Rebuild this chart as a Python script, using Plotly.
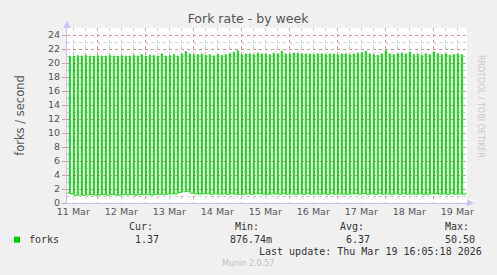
import pandas as pd
import plotly.graph_objects as go

# ---- data ----
start_time = "2026-03-11 08:00"
period_hours = 2
spike_values = [
    21.0, 21.0, 21.0, 21.05, 21.0, 21.1, 21.0, 21.0, 21.05, 21.0,
    21.0, 21.1, 21.0, 21.0, 21.05, 21.0, 21.0, 21.1, 21.0, 21.2,
    21.0, 21.1, 21.05, 21.0, 21.3, 21.0, 21.1, 21.2, 21.0, 21.3,
    21.65, 21.3, 21.2, 21.2, 21.3, 21.1, 21.2, 21.0, 21.2, 21.1,
    21.2, 21.3, 21.5, 21.75, 21.2, 21.3, 21.3, 21.2, 21.4, 21.3,
    21.3, 21.2, 21.4, 21.3, 21.7, 21.3, 21.3, 21.4, 21.4, 21.3,
    21.3, 21.3, 21.2, 21.3, 21.3, 21.2, 21.3, 21.3, 21.2, 21.3,
    21.3, 21.2, 21.3, 21.4, 21.5, 21.7, 21.3, 21.2, 21.1, 21.3,
    21.8, 21.3, 21.2, 21.3, 21.4, 21.3, 21.6, 21.2, 21.3, 21.1,
    21.3, 21.2, 21.6, 21.3, 21.2, 21.3, 21.1, 21.2, 21.3, 21.2,
]
base_values = [
    1.4, 1.3, 1.1, 1.15, 1.1, 1.15, 1.2, 1.1, 1.15, 1.2,
    1.1, 1.2, 1.15, 1.1, 1.2, 1.15, 1.2, 1.1, 1.2, 1.2,
    1.2, 1.15, 1.2, 1.25, 1.2, 1.25, 1.3, 1.3, 1.5, 1.6,
    1.65, 1.4, 1.3, 1.25, 1.3, 1.3, 1.25, 1.3, 1.25, 1.3,
    1.25, 1.3, 1.25, 1.2, 1.25, 1.3, 1.25, 1.3, 1.3, 1.25,
    1.25, 1.3, 1.3, 1.25, 1.3, 1.25, 1.3, 1.25, 1.3, 1.25,
    1.3, 1.25, 1.3, 1.25, 1.3, 1.25, 1.3, 1.25, 1.3, 1.25,
    1.25, 1.3, 1.3, 1.25, 1.35, 1.25, 1.3, 1.25, 1.3, 1.25,
    1.3, 1.25, 1.3, 1.25, 1.3, 1.25, 1.3, 1.25, 1.3, 1.25,
    1.25, 1.3, 1.3, 1.25, 1.3, 1.25, 1.3, 1.25, 1.3, 1.25,
]
final_values = [1.37, 1.37]
final_times = ["2026-03-19 16:00", "2026-03-19 16:30"]

y_ticks = list(range(0, 25, 2))
legend_headers = ["Cur:", "Min:", "Avg:", "Max:"]
legend_values = ["1.37", "876.74m", "6.37", "50.50"]
series_name = "forks"
title_text = "Fork rate - by week"
y_title = "forks / second"
last_update = "Last update: Thu Mar 19 16:05:18 2026"
footer = "Munin 2.0.57"
side_text = "RRDTOOL / TOBI OETIKER"

# ---- build series ----
t0 = pd.Timestamp(start_time)
xs, ys = [], []
for k, (sp, bs) in enumerate(zip(spike_values, base_values)):
    base_t = t0 + pd.Timedelta(hours=period_hours * k)
    for j, v in enumerate([sp, bs, bs, bs]):
        xs.append(base_t + pd.Timedelta(minutes=30 * j))
        ys.append(v)
for t, v in zip(final_times, final_values):
    xs.append(pd.Timestamp(t))
    ys.append(v)

W, H = 497, 275
L, R, T, B = 67, 467, 28, 203.3


def px(x):
    return (x - L) / (R - L)


def py(y):
    return (B - y) / (B - T)


GREEN = "#00CC00"
TXT = "#555555"
MONO = "DejaVu Sans Mono"
SANS = "DejaVu Sans"

fig = go.Figure()
fig.add_trace(go.Scatter(x=xs, y=ys, mode="lines", line=dict(color=GREEN, width=1, shape="hv"),
                         hoverinfo="skip", showlegend=False))

fig.update_layout(
    width=W, height=H,
    margin=dict(l=L, r=W - R, t=T, b=H - B),
    paper_bgcolor="#F0F0F0", plot_bgcolor="#FFFFFF",
    showlegend=False,
    title=dict(text=title_text, x=248 / W, xanchor="center",
               y=1 - 19 / H, yanchor="middle", font=dict(family=SANS, size=12.5, color=TXT)),
    xaxis=dict(
        type="date",
        range=["2026-03-11 08:51", "2026-03-19 16:51"],
        tick0="2026-03-11", dtick=86400000, tickformat="%d %b", ticklabelmode="period",
        showgrid=True, gridcolor="rgba(225,140,140,0.9)", griddash="dot", gridwidth=1,
        minor=dict(dtick=6 * 3600 * 1000, tick0="2026-03-11", showgrid=True,
                   gridcolor="#CFCFCF", griddash="dot", gridwidth=1),
        showline=True, linecolor="#C4C4EC", linewidth=1,
        ticks="", tickfont=dict(family=SANS, size=9.5, color=TXT),
        zeroline=False, fixedrange=True,
    ),
    yaxis=dict(
        range=[0, 25], tickvals=y_ticks,
        showgrid=True, gridcolor="rgba(225,140,140,0.9)", griddash="dot", gridwidth=1,
        minor=dict(dtick=1, tick0=0, showgrid=True, gridcolor="#CFCFCF", griddash="dot", gridwidth=1),
        showline=True, linecolor="#C4C4EC", linewidth=1,
        ticks="outside", ticklen=4, tickcolor="rgba(225,140,140,0.9)",
        tickfont=dict(family=SANS, size=9.5, color=TXT),
        zeroline=False, fixedrange=True,
    ),
)

# axis arrows
fig.add_shape(type="path", xref="paper", yref="paper",
              path=f"M {px(63.5)} {py(28)} L {px(70.5)} {py(28)} L {px(67)} {py(20)} Z",
              fillcolor="#C8C8F4", line=dict(width=0))
fig.add_shape(type="path", xref="paper", yref="paper",
              path=f"M {px(467)} {py(199.8)} L {px(467)} {py(206.8)} L {px(474)} {py(203.3)} Z",
              fillcolor="#C8C8F4", line=dict(width=0))

ann = []
ann.append(dict(text=y_title, x=px(11), y=py(115), textangle=-90, showarrow=False,
                xref="paper", yref="paper", font=dict(family=SANS, size=11.5, color=TXT)))
ann.append(dict(text=side_text, x=px(487), y=py(53), textangle=90, showarrow=False,
                xref="paper", yref="paper", font=dict(family=SANS, size=8, color="#C8C8C8")))

# legend
fig.add_shape(type="rect", xref="paper", yref="paper", x0=px(14), x1=px(20), y0=py(243), y1=py(237),
              fillcolor=GREEN, line=dict(width=0))
ann.append(dict(text=series_name, x=px(27), y=py(240), xanchor="left", yanchor="middle",
                showarrow=False, xref="paper", yref="paper", font=dict(family=MONO, size=10, color="#333333")))
header_right = [155, 261, 366, 471]
value_right = [161, 274, 372, 477]
for h, hx in zip(legend_headers, header_right):
    ann.append(dict(text=h, x=px(hx), y=py(227), xanchor="right", yanchor="middle", showarrow=False,
                    xref="paper", yref="paper", font=dict(family=MONO, size=10, color="#333333")))
for v, vx in zip(legend_values, value_right):
    ann.append(dict(text=v, x=px(vx), y=py(240), xanchor="right", yanchor="middle", showarrow=False,
                    xref="paper", yref="paper", font=dict(family=MONO, size=10, color="#333333")))
ann.append(dict(text=last_update, x=px(484), y=py(252), xanchor="right", yanchor="middle", showarrow=False,
                xref="paper", yref="paper", font=dict(family=MONO, size=10, color="#333333")))
ann.append(dict(text=footer, x=px(248), y=py(264), xanchor="center", yanchor="middle", showarrow=False,
                xref="paper", yref="paper", font=dict(family=SANS, size=8, color="#C0C0C0")))
fig.update_layout(annotations=ann)

fig.write_html("out.html")
